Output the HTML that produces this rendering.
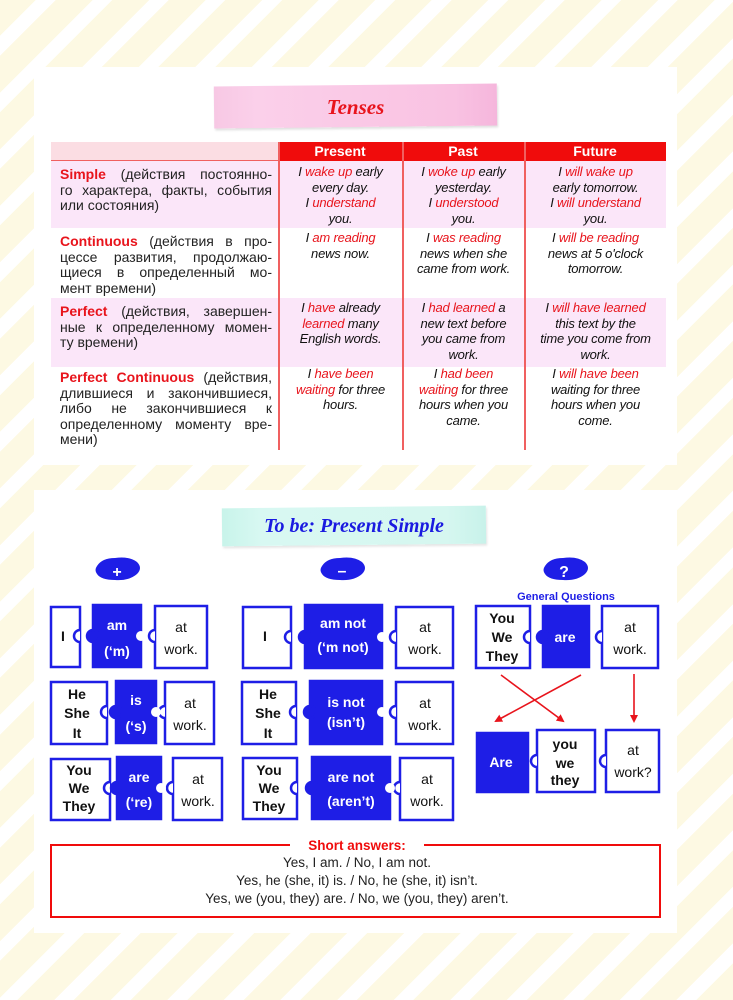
<!DOCTYPE html>
<html><head><meta charset="utf-8"><style>
*{margin:0;padding:0;box-sizing:border-box}
body{width:733px;height:1000px;position:relative;overflow:hidden;font-family:"Liberation Sans",sans-serif;
background:repeating-linear-gradient(-45deg,#fdf9e3 0 26px,#ffffff 26px 40px);}
.panel{position:absolute;left:34px;width:643px;background:#fff}
.a{position:absolute}
.cell{position:absolute;text-align:center;font-style:italic;font-size:13px;line-height:15.5px;color:#111;letter-spacing:-0.2px}
.r{color:#e8141c}
.lc{position:absolute;left:60px;width:212px;font-size:14px;line-height:15.5px;color:#222;white-space:nowrap}
.lc div{text-align:justify;text-align-last:justify;white-space:normal}
.lc div.l{text-align-last:left}
.lc b{color:#e8141c;font-weight:bold}
.hd{position:absolute;top:142px;height:19px;color:#fff;font-weight:bold;font-size:14px;text-align:center;line-height:19px}
</style></head><body>
<div class="panel" style="top:67px;height:398px"></div>
<div class="panel" style="top:490px;height:443px"></div>

<div class="a" style="left:214px;top:85px;width:283px;height:42px;background:linear-gradient(90deg,#f7c8e4,#fbd0ea 15%,#f9c2e2 85%,#f5b6dc);box-shadow:1px 2px 2px rgba(0,0,0,0.12);transform:rotate(-0.6deg)"></div>
<div class="a" style="left:214px;top:95px;width:283px;text-align:center;font-family:'Liberation Serif',serif;font-style:italic;font-weight:bold;font-size:21px;color:#e8141c">Tenses</div>

<div class="a" style="left:51px;top:142px;width:227px;height:19px;background:#fbdde3"></div>
<div class="a" style="left:278px;top:142px;width:388px;height:19px;background:#f00c0c"></div>
<div class="a" style="left:51px;top:160px;width:227px;height:1.5px;background:#f06060"></div>
<div class="hd" style="left:278px;width:124px">Present</div>
<div class="hd" style="left:402px;width:122px">Past</div>
<div class="hd" style="left:524px;width:142px">Future</div>
<div class="a" style="left:51px;top:161px;width:615px;height:67px;background:#fbe6f9"></div>
<div class="a" style="left:51px;top:298px;width:615px;height:69px;background:#fbe6f9"></div>
<div class="a" style="left:278px;top:142px;width:1.5px;height:308px;background:#f06060"></div>
<div class="a" style="left:402px;top:142px;width:1.5px;height:308px;background:#f06060"></div>
<div class="a" style="left:524px;top:142px;width:1.5px;height:308px;background:#f06060"></div>

<div class="lc" style="top:167px"><div><b>Simple</b> (действия постоянно-</div><div>го характера, факты, события</div><div class="l">или состояния)</div></div>
<div class="lc" style="top:234px"><div><b>Continuous</b> (действия в про-</div><div>цессе развития, продолжаю-</div><div>щиеся в определенный мо-</div><div class="l">мент времени)</div></div>
<div class="lc" style="top:304px"><div><b>Perfect</b> (действия, завершен-</div><div>ные к определенному момен-</div><div class="l">ту времени)</div></div>
<div class="lc" style="top:370px"><div><b>Perfect Continuous</b> (действия,</div><div>длившиеся и закончившиеся,</div><div>либо не закончившиеся к</div><div>определенному моменту вре-</div><div class="l">мени)</div></div>

<div class="cell" style="left:279px;width:123px;top:164px">I <span class="r">wake up</span> early<br>every day.<br>I <span class="r">understand</span><br>you.</div>
<div class="cell" style="left:403px;width:121px;top:164px">I <span class="r">woke up</span> early<br>yesterday.<br>I <span class="r">understood</span><br>you.</div>
<div class="cell" style="left:525px;width:141px;top:164px">I <span class="r">will wake up</span><br>early tomorrow.<br>I <span class="r">will understand</span><br>you.</div>

<div class="cell" style="left:279px;width:123px;top:230px">I <span class="r">am reading</span><br>news now.</div>
<div class="cell" style="left:403px;width:121px;top:230px">I <span class="r">was reading</span><br>news when she<br>came from work.</div>
<div class="cell" style="left:525px;width:141px;top:230px">I <span class="r">will be reading</span><br>news at 5 o'clock<br>tomorrow.</div>

<div class="cell" style="left:279px;width:123px;top:300px">I <span class="r">have</span> already<br><span class="r">learned</span> many<br>English words.</div>
<div class="cell" style="left:403px;width:121px;top:300px">I <span class="r">had learned</span> a<br>new text before<br>you came from<br>work.</div>
<div class="cell" style="left:525px;width:141px;top:300px">I <span class="r">will have learned</span><br>this text by the<br>time you come from<br>work.</div>

<div class="cell" style="left:279px;width:123px;top:366px">I <span class="r">have been<br>waiting</span> for three<br>hours.</div>
<div class="cell" style="left:403px;width:121px;top:366px">I <span class="r">had been<br>waiting</span> for three<br>hours when you<br>came.</div>
<div class="cell" style="left:525px;width:141px;top:366px">I <span class="r">will have been</span><br>waiting for three<br>hours when you<br>come.</div>

<div class="a" style="left:222px;top:507px;width:264px;height:38px;background:linear-gradient(90deg,#c8f4ea,#d8f8f2 15%,#d6f7f0 85%,#c8f2ea);box-shadow:1px 2px 2px rgba(0,0,0,0.1);transform:rotate(-0.6deg)"></div>
<div class="a" style="left:222px;top:515px;width:264px;text-align:center;font-family:'Liberation Serif',serif;font-style:italic;font-weight:bold;font-size:20px;color:#1a1ae0">To be: Present Simple</div>

<svg class="a" style="left:0;top:0" width="733" height="1000" font-family="Liberation Sans, sans-serif">
<defs>
<marker id="ar" markerWidth="8" markerHeight="8" refX="6" refY="4" orient="auto" markerUnits="userSpaceOnUse"><path d="M0,0 L8,4 L0,8 Z" fill="#e8141c"/></marker>
</defs>
<g fill="#1e1ee6">
<path d="M97,566 q5,-8 18,-8 q14,-2 22,4 q6,6 0,12 q-8,7 -22,6 q-14,0 -18,-6 q-3,-4 0,-8z"/>
<path d="M322,566 q5,-8 18,-8 q14,-2 22,4 q6,6 0,12 q-8,7 -22,6 q-14,0 -18,-6 q-3,-4 0,-8z"/>
<path d="M545,566 q5,-8 18,-8 q14,-2 22,4 q6,6 0,12 q-8,7 -22,6 q-14,0 -18,-6 q-3,-4 0,-8z"/>
</g>
<g fill="#fff" font-weight="bold" text-anchor="middle">
<text x="117" y="577" font-size="16">+</text>
<text x="342" y="576" font-size="16">–</text>
<text x="564" y="577" font-size="16">?</text>
</g>
<text x="566" y="600" font-size="11" font-weight="bold" fill="#1e1ee6" text-anchor="middle">General Questions</text>

<g stroke="#1e1ee6" stroke-width="2.5">
<rect x="51" y="607" width="29" height="60" fill="#fff"/>
<rect x="93" y="605" width="48" height="62" fill="#1e1ee6"/>
<rect x="155" y="606" width="52" height="62" fill="#fff"/>
<rect x="51" y="682" width="56" height="62" fill="#fff"/>
<rect x="116" y="681" width="40" height="62" fill="#1e1ee6"/>
<rect x="165" y="682" width="49" height="62" fill="#fff"/>
<rect x="51" y="759" width="59" height="61" fill="#fff"/>
<rect x="117" y="757" width="44" height="62" fill="#1e1ee6"/>
<rect x="173" y="758" width="49" height="62" fill="#fff"/>
<rect x="243" y="607" width="48" height="61" fill="#fff"/>
<rect x="305" y="605" width="77" height="63" fill="#1e1ee6"/>
<rect x="396" y="607" width="57" height="61" fill="#fff"/>
<rect x="242" y="682" width="54" height="62" fill="#fff"/>
<rect x="310" y="681" width="72" height="63" fill="#1e1ee6"/>
<rect x="396" y="682" width="57" height="62" fill="#fff"/>
<rect x="243" y="758" width="54" height="61" fill="#fff"/>
<rect x="312" y="757" width="78" height="62" fill="#1e1ee6"/>
<rect x="400" y="758" width="53" height="62" fill="#fff"/>
<rect x="476" y="606" width="54" height="62" fill="#fff"/>
<rect x="543" y="606" width="46" height="61" fill="#1e1ee6"/>
<rect x="602" y="606" width="56" height="62" fill="#fff"/>
<rect x="477" y="733" width="51" height="59" fill="#1e1ee6"/>
<rect x="537" y="730" width="58" height="62" fill="#fff"/>
<rect x="606" y="730" width="53" height="62" fill="#fff"/>
</g>
<g stroke="#1e1ee6" stroke-width="2.5" fill="#fff">
<path d="M80,630 a6,6 0 0 0 0,12"/><circle cx="93" cy="636" r="6" fill="#1e1ee6"/>
<path d="M155,630 a6,6 0 0 0 0,12"/><circle cx="141" cy="636" r="5" stroke="none"/>
<path d="M107,706 a6,6 0 0 0 0,12"/><circle cx="116" cy="712" r="6" fill="#1e1ee6"/>
<path d="M165,706 a6,6 0 0 0 0,12"/><circle cx="156" cy="712" r="5" stroke="none"/>
<path d="M110,782 a6,6 0 0 0 0,12"/><circle cx="117" cy="788" r="6" fill="#1e1ee6"/>
<path d="M173,782 a6,6 0 0 0 0,12"/><circle cx="161" cy="788" r="5" stroke="none"/>
<path d="M291,631 a6,6 0 0 0 0,12"/><circle cx="305" cy="637" r="6" fill="#1e1ee6"/>
<path d="M396,631 a6,6 0 0 0 0,12"/><circle cx="382" cy="637" r="5" stroke="none"/>
<path d="M296,706 a6,6 0 0 0 0,12"/><circle cx="310" cy="712" r="6" fill="#1e1ee6"/>
<path d="M396,706 a6,6 0 0 0 0,12"/><circle cx="382" cy="712" r="5" stroke="none"/>
<path d="M297,782 a6,6 0 0 0 0,12"/><circle cx="312" cy="788" r="6" fill="#1e1ee6"/>
<path d="M400,782 a6,6 0 0 0 0,12"/><circle cx="390" cy="788" r="5" stroke="none"/>
<path d="M530,631 a6,6 0 0 0 0,12"/><circle cx="543" cy="637" r="6" fill="#1e1ee6"/>
<path d="M602,631 a6,6 0 0 0 0,12"/>
<path d="M537,755 a6,6 0 0 0 0,12"/>
<path d="M606,755 a6,6 0 0 0 0,12"/>
</g>
<g font-size="14" text-anchor="middle">
<g font-weight="bold" fill="#111">
<text x="63" y="641">I</text>
<text x="77" y="699">He</text><text x="77" y="718">She</text><text x="77" y="738">It</text>
<text x="79" y="775">You</text><text x="79" y="793">We</text><text x="79" y="811">They</text>
<text x="265" y="641">I</text>
<text x="268" y="699">He</text><text x="268" y="718">She</text><text x="268" y="738">It</text>
<text x="269" y="775">You</text><text x="269" y="793">We</text><text x="269" y="811">They</text>
<text x="502" y="623">You</text><text x="502" y="642">We</text><text x="502" y="661">They</text>
<text x="565" y="749">you</text><text x="565" y="768">we</text><text x="565" y="785">they</text>
</g>
<g font-weight="bold" fill="#fff">
<text x="117" y="630">am</text><text x="117" y="656">(‘m)</text>
<text x="136" y="705">is</text><text x="136" y="731">(‘s)</text>
<text x="139" y="782">are</text><text x="139" y="807">(‘re)</text>
<text x="343" y="628">am not</text><text x="343" y="652">(‘m not)</text>
<text x="346" y="707">is not</text><text x="346" y="727">(isn’t)</text>
<text x="351" y="782">are not</text><text x="351" y="806">(aren’t)</text>
<text x="565" y="642">are</text>
<text x="501" y="767">Are</text>
</g>
<g fill="#111">
<text x="181" y="632">at</text><text x="181" y="654">work.</text>
<text x="190" y="708">at</text><text x="190" y="730">work.</text>
<text x="198" y="784">at</text><text x="198" y="806">work.</text>
<text x="425" y="632">at</text><text x="425" y="654">work.</text>
<text x="425" y="708">at</text><text x="425" y="730">work.</text>
<text x="427" y="784">at</text><text x="427" y="806">work.</text>
<text x="630" y="632">at</text><text x="630" y="654">work.</text>
<text x="633" y="755">at</text><text x="633" y="777">work?</text>
</g>
</g>
<g stroke="#e8141c" stroke-width="1.6" marker-end="url(#ar)">
<line x1="501" y1="675" x2="563" y2="721"/>
<line x1="581" y1="675" x2="496" y2="721"/>
<line x1="634" y1="674" x2="634" y2="721"/>
</g>
<rect x="51" y="845" width="609" height="72" fill="none" stroke="#f00c0c" stroke-width="2"/>
<rect x="290" y="836" width="134" height="18" fill="#fff"/>
<text x="357" y="850" font-size="13.5" font-weight="bold" fill="#f00c0c" text-anchor="middle">Short answers:</text>
<g font-size="13.5" fill="#222" text-anchor="middle">
<text x="357" y="867">Yes, I am. / No, I am not.</text>
<text x="357" y="885">Yes, he (she, it) is. / No, he (she, it) isn’t.</text>
<text x="357" y="903">Yes, we (you, they) are. / No, we (you, they) aren’t.</text>
</g>
</svg>
</body></html>
